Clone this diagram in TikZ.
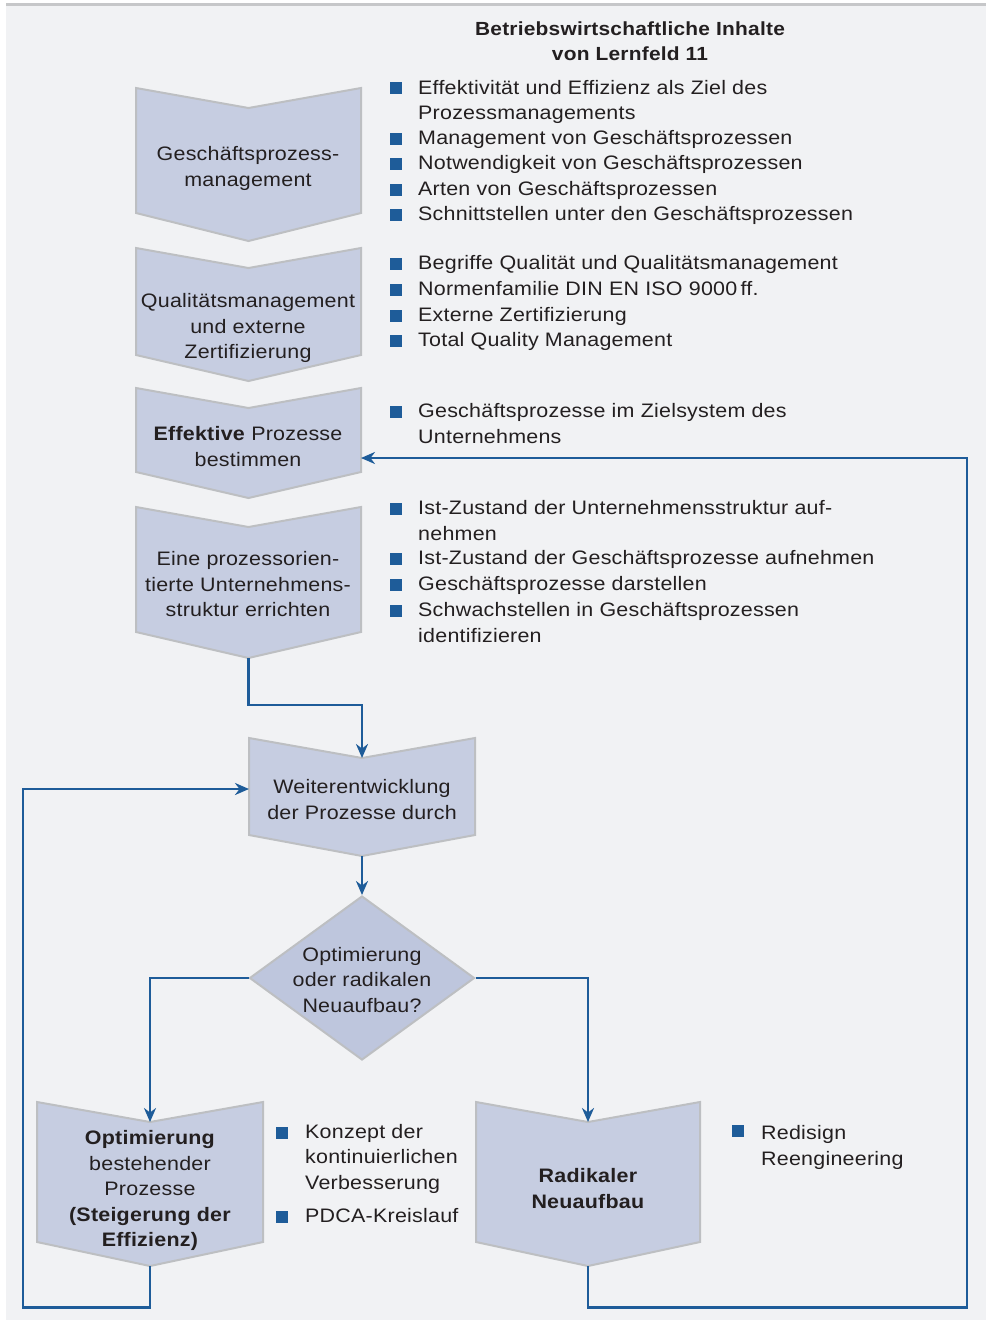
\documentclass[tikz,border=0pt]{standalone}
\usepackage{fontspec}
\setmainfont{Liberation Sans}[FakeStretch=1.1,LetterSpace=1.2]
\usetikzlibrary{arrows.meta,shapes.geometric}
\definecolor{bgc}{HTML}{F1F2F4}
\definecolor{topc}{HTML}{C6C7C9}
\definecolor{chevc}{HTML}{C6CDE1}
\definecolor{diac}{HTML}{BEC6DD}
\definecolor{edgec}{HTML}{BDBFC2}
\definecolor{bluec}{HTML}{1E5C99}
\definecolor{txtc}{HTML}{231F20}
\newcommand\mychev[6]{%
  \path[chevf] (#2,#4) -- ({(#2+#3)/2},{#4+20}) -- (#3,#4) -- (#3,#5) -- ({(#2+#3)/2},{#5+#6}) -- (#2,#5) -- cycle;
  \coordinate (#1n) at ({(#2+#3)/2},{#4+20});
  \coordinate (#1s) at ({(#2+#3)/2},{#5+#6});
}
\begin{document}
\begin{tikzpicture}[x=1pt,y=-1pt,
  chevf/.style={fill=chevc,draw=edgec,line width=2pt,line join=miter},
  lbl/.style={font=\fontsize{19.5}{25.6}\selectfont,text=txtc,align=center,inner sep=0pt,
    execute at begin node=\strut,execute at end node=\strut},
  itm/.style={font=\fontsize{19.5}{25.6}\selectfont,text=txtc,align=left,inner sep=0pt,anchor=west,
    execute at begin node=\strut,execute at end node=\strut},
  sq/.style={fill=bluec,minimum size=12pt,inner sep=0pt,draw=none},
  conn/.style={draw=bluec,line width=2.8pt,-{Stealth[length=14pt,width=12pt,inset=4.5pt]}}]
\useasboundingbox (0,0) rectangle (986,1320);
\fill[bgc] (6,4) rectangle (986,1320);
\draw[topc,line width=2.5pt] (6,4.5) -- (986,4.5);

% title
\node[lbl,font=\fontsize{19}{25.6}\selectfont\bfseries] (title) at (630,45) {Betriebswirtschaftliche Inhalte\\von Lernfeld 11};

% chevrons
\mychev{c1}{136}{361}{88}{213}{28}
\mychev{c2}{136}{361}{248}{355}{26}
\mychev{c3}{136}{361}{388}{472}{26}
\mychev{c4}{136}{361}{507}{632}{26}
\mychev{c5}{249}{475}{738}{835}{21}
\mychev{c6}{37}{263}{1102}{1242}{24}
\mychev{c7}{476}{700}{1102}{1242}{24}
\coordinate (c5w) at (249,789);
\coordinate (c3e) at (361,458);

\node[diamond,fill=diac,draw=edgec,line width=2pt,minimum width=225pt,minimum height=164pt,inner sep=0pt] (dia) at (362,978) {};

% chevron labels
\node[lbl] (t1) at (248,170.5) {Geschäftsprozess-\\management};
\node[lbl] (t2) at (248,330) {Qualitätsmanagement\\und externe\\Zertifizierung};
\node[lbl] (t3) at (248,450) {\textbf{Effektive} Prozesse\\bestimmen};
\node[lbl] (t4) at (248,588) {Eine prozessorien-\\tierte Unternehmens-\\struktur errichten};
\node[lbl] (t5) at (362,803) {Weiterentwicklung\\der Prozesse durch};
\node[lbl] (t6) at (362,983.5) {Optimierung\\oder radikalen\\Neuaufbau?};
\node[lbl] (t7) at (150,1192.5) {\textbf{Optimierung}\\bestehender\\Prozesse\\\textbf{(Steigerung der}\\\textbf{Effizienz)}};
\node[lbl] (t8) at (588,1192.5) {\textbf{Radikaler}\\\textbf{Neuaufbau}};

% bullet group 1
\node[sq] (s11) at (396,87.5) {};
\node[itm] (b11) at (418,103.7) {Effektivität und Effizienz als Ziel des\\Prozessmanagements};
\node[sq] (s12) at (396,138.5) {};
\node[itm] (b12) at (418,139) {Management von Geschäftsprozessen};
\node[sq] (s13) at (396,164) {};
\node[itm] (b13) at (418,164.5) {Notwendigkeit von Geschäftsprozessen};
\node[sq] (s14) at (396,189.5) {};
\node[itm] (b14) at (418,190) {Arten von Geschäftsprozessen};
\node[sq] (s15) at (396,215) {};
\node[itm] (b15) at (418,215.5) {Schnittstellen unter den Geschäftsprozessen};
% group 2
\node[sq] (s21) at (396,263.5) {};
\node[itm] (b21) at (418,264) {Begriffe Qualität und Qualitätsmanagement};
\node[sq] (s22) at (396,289.5) {};
\node[itm] (b22) at (418,290) {Normenfamilie DIN EN ISO 9000\,ff.};
\node[sq] (s23) at (396,315.5) {};
\node[itm] (b23) at (418,316) {Externe Zertifizierung};
\node[sq] (s24) at (396,340.5) {};
\node[itm] (b24) at (418,341) {Total Quality Management};
% group 3
\node[sq] (s31) at (396,411.5) {};
\node[itm] (b31) at (418,427.5) {Geschäftsprozesse im Zielsystem des\\Unternehmens};
% group 4
\node[sq] (s41) at (396,508.5) {};
\node[itm] (b41) at (418,524.5) {Ist-Zustand der Unternehmensstruktur auf-\\nehmen};
\node[sq] (s42) at (396,558.5) {};
\node[itm] (b42) at (418,559) {Ist-Zustand der Geschäftsprozesse aufnehmen};
\node[sq] (s43) at (396,584.5) {};
\node[itm] (b43) at (418,585) {Geschäftsprozesse darstellen};
\node[sq] (s44) at (396,610.5) {};
\node[itm] (b44) at (418,626) {Schwachstellen in Geschäftsprozessen\\identifizieren};
% group 6
\node[sq] (s61) at (282,1132.5) {};
\node[itm] (b61) at (305,1160.5) {Konzept der\\kontinuierlichen\\Verbesserung};
\node[sq] (s62) at (282,1217) {};
\node[itm] (b62) at (305,1217) {PDCA-Kreislauf};
% group 7
\node[sq] (s71) at (738,1131) {};
\node[itm] (b71) at (761,1149) {Redisign\\Reengineering};

% connectors
\coordinate (lb) at (23,1307.5);
\coordinate (rb) at (967,1307.5);
\draw[conn] (c4s) -- ++(0,47) -| (c5n);
\draw[conn] (c5s) -- (dia.north);
\draw[conn] (dia.west) -| (c6n);
\draw[conn] (dia.east) -| (c7n);
\draw[conn] (c6s) |- (lb) |- (c5w);
\draw[conn] (c7s) |- (rb) |- (c3e);
\end{tikzpicture}
\end{document}
